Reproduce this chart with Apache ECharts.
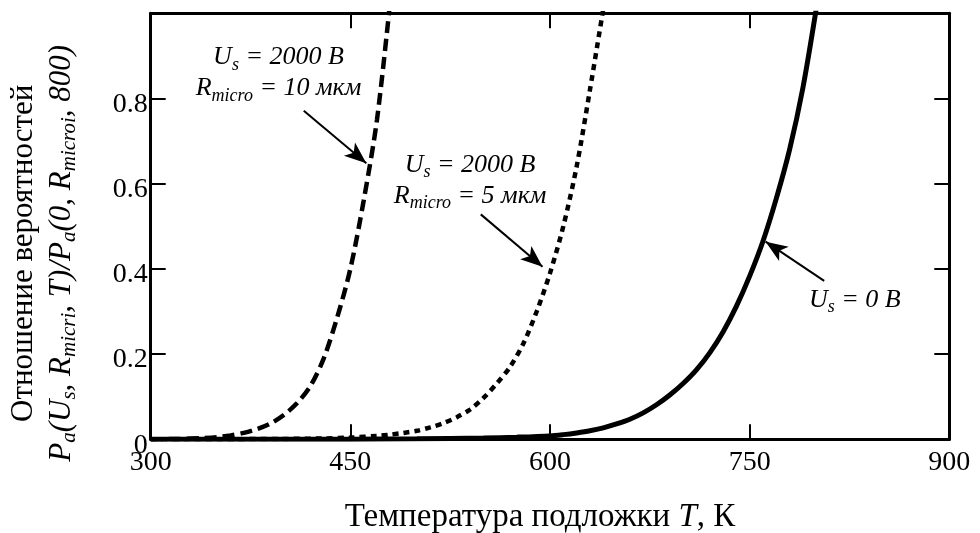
<!DOCTYPE html>
<html>
<head>
<meta charset="utf-8">
<script src="https://cdn.jsdelivr.net/npm/echarts@6/dist/echarts.min.js"></script>
<style>
html,body{margin:0;padding:0;background:#fff;}
#chart{width:980px;height:533px;}
</style>
</head>
<body>
<div id="chart"></div>
<script>
// ---- data ----
const xTickLabels = ['300', '450', '600', '750', '900'];
const yTickLabels = ['0', '0.2', '0.4', '0.6', '0.8', ''];

// U_s = 2000 B, R_micro = 10 мкм (dashed)
const tempA = [300, 320, 340, 350, 360, 370, 380, 390, 400, 410, 420, 430, 440, 450, 460, 470, 480];
const valsA = [0, 0.0008, 0.003, 0.005, 0.009, 0.015, 0.024, 0.037, 0.057, 0.085, 0.125, 0.19, 0.285, 0.40, 0.56, 0.75, 1.03];

// U_s = 2000 B, R_micro = 5 мкм (dotted)
const tempB = [300, 350, 400, 430, 450, 470, 480, 490, 500, 510, 520, 530, 540, 550, 560, 570, 580, 590, 600, 610, 620, 630, 640];
const valsB = [0, 0.0002, 0.0008, 0.002, 0.004, 0.008, 0.011, 0.015, 0.02, 0.028, 0.038, 0.052, 0.07, 0.097, 0.131, 0.17, 0.225, 0.30, 0.39, 0.50, 0.64, 0.82, 1.01];

// U_s = 0 B (solid)
const tempC = [300, 400, 450, 500, 550, 575, 600, 610, 620, 630, 640, 650, 660, 670, 680, 690, 700, 710, 720, 730, 740, 750, 760, 770, 780, 790, 800];
const valsC = [0, 0.0001, 0.0004, 0.001, 0.003, 0.005, 0.008, 0.011, 0.015, 0.02, 0.027, 0.036, 0.047, 0.062, 0.081, 0.104, 0.131, 0.163, 0.203, 0.252, 0.312, 0.383, 0.465, 0.565, 0.68, 0.825, 1.01];

// annotation anchors (data coordinates)
const noteA = [396, 0.86];
const noteB = [540, 0.607];
const noteC = [829, 0.327];
const arrowA = [[415, 0.771], [462, 0.648]];
const arrowB = [[548, 0.528], [594.4, 0.405]];
const arrowC = [[806, 0.372], [762, 0.464]];

const FONT = 'Liberation Serif';
const pair = (t, v) => t.map((x, i) => [x, v[i]]);

const chart = echarts.init(document.getElementById('chart'), null, {renderer: 'canvas'});

const noteRich = {
  i: {fontFamily: FONT, fontStyle: 'italic', fontSize: 26, color: '#000', lineHeight: 31},
  s: {fontFamily: FONT, fontStyle: 'italic', fontSize: 18, color: '#000', lineHeight: 31, padding: [15, 0, 0, 0]}
};
function note(coord, text) {
  return {
    coord: coord, symbol: 'circle', symbolSize: 1,
    itemStyle: {color: 'rgba(0,0,0,0)'},
    label: {show: true, position: 'inside', align: 'center', verticalAlign: 'middle', formatter: text, rich: noteRich}
  };
}
function arrow(a) {
  return [{coord: a[0]}, {coord: a[1]}];
}
const arrowMark = (a) => ({
  silent: true, symbol: ['none', 'arrow'], symbolSize: [13, 22],
  lineStyle: {color: '#000', width: 2, type: 'solid'}, label: {show: false},
  data: [arrow(a)]
});

const axisLineStyle = {show: true, onZero: false, lineStyle: {color: '#000', width: 3}};
const tickStyle = {show: true, inside: true, length: 15, lineStyle: {color: '#000', width: 2}};

const option = {
  animation: false,
  backgroundColor: '#fff',
  grid: {left: 150.7, right: 30.7, top: 13.3, bottom: 93.7, containLabel: false, outerBoundsMode: 'none'},
  xAxis: [{
    type: 'value', min: 300, max: 900, interval: 150, position: 'bottom',
    axisLine: axisLineStyle, axisTick: tickStyle, splitLine: {show: false},
    axisLabel: {
      color: '#000', fontFamily: FONT, fontSize: 28, margin: 9,
      formatter: (v) => xTickLabels[Math.round((v - 300) / 150)]
    },
    name: '{n|Температура подложки }{t|T}{n|, К}',
    nameLocation: 'middle', nameGap: 62,
    nameTextStyle: {
      padding: [0, 20, 0, 0],
      rich: {
        n: {fontFamily: FONT, fontSize: 33, color: '#000'},
        t: {fontFamily: FONT, fontSize: 33, fontStyle: 'italic', color: '#000'}
      }
    }
  }, {
    type: 'value', min: 300, max: 900, interval: 150, position: 'top',
    axisLine: axisLineStyle, axisTick: tickStyle, splitLine: {show: false}, axisLabel: {show: false}
  }],
  yAxis: [{
    type: 'value', min: 0, max: 1, interval: 0.2, position: 'left',
    axisLine: axisLineStyle, axisTick: tickStyle, splitLine: {show: false},
    axisLabel: {
      color: '#000', fontFamily: FONT, fontSize: 28, margin: 3,
      verticalAlign: 'top', lineHeight: 12,
      formatter: (v) => yTickLabels[Math.round(v / 0.2)]
    },
    name: '{a|Отношение вероятностей}\n{i|P}{s|a}{i|(U}{s|s}{i|, R}{s|micri}{i|, T)/P}{s|a}{i|(0, R}{s|microi}{i|, 800)}',
    nameLocation: 'middle', nameRotate: 90, nameGap: 70,
    nameTextStyle: {
      align: 'center',
      padding: [0, 54, 0, 0],
      rich: {
        a: {fontFamily: FONT, fontSize: 31, color: '#000', lineHeight: 38},
        i: {fontFamily: FONT, fontSize: 31, fontStyle: 'italic', color: '#000', lineHeight: 38},
        s: {fontFamily: FONT, fontSize: 21, fontStyle: 'italic', color: '#000', lineHeight: 38, padding: [16, 0, 0, 0]}
      }
    }
  }, {
    type: 'value', min: 0, max: 1, interval: 0.2, position: 'right',
    axisLine: axisLineStyle, axisTick: tickStyle, splitLine: {show: false}, axisLabel: {show: false}
  }],
  series: [{
    name: 'R10', type: 'line', xAxisIndex: 0, yAxisIndex: 0,
    data: pair(tempA, valsA), smooth: 0.3, showSymbol: false, symbol: 'none', clip: true,
    lineStyle: {color: '#000', width: 4.5, type: [12, 6]},
    markPoint: {silent: true, data: [note(noteA, '{i|U}{s|s}{i| = 2000 В}\n{i|R}{s|micro}{i| = 10 мкм}')]},
    markLine: arrowMark(arrowA)
  }, {
    name: 'R5', type: 'line', xAxisIndex: 0, yAxisIndex: 0,
    data: pair(tempB, valsB), smooth: 0.3, showSymbol: false, symbol: 'none', clip: true,
    lineStyle: {color: '#000', width: 4.5, type: [6, 5]},
    markPoint: {silent: true, data: [note(noteB, '{i|U}{s|s}{i| = 2000 В}\n{i|R}{s|micro}{i| = 5 мкм}')]},
    markLine: arrowMark(arrowB)
  }, {
    name: 'U0', type: 'line', xAxisIndex: 0, yAxisIndex: 0,
    data: pair(tempC, valsC), smooth: 0.3, showSymbol: false, symbol: 'none', clip: true,
    lineStyle: {color: '#000', width: 5, type: 'solid'},
    markPoint: {silent: true, data: [note(noteC, '{i|U}{s|s}{i| = 0 В}')]},
    markLine: arrowMark(arrowC)
  }]
};
chart.setOption(option);
</script>
</body>
</html>
